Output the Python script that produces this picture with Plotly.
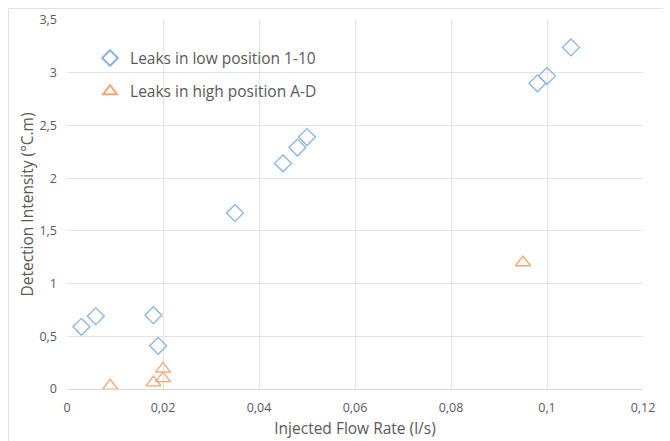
import plotly.graph_objects as go

low_x = [0.003, 0.006, 0.018, 0.019, 0.035, 0.045, 0.048, 0.050, 0.098, 0.100, 0.105]
low_y = [0.59, 0.69, 0.70, 0.41, 1.67, 2.14, 2.29, 2.39, 2.90, 2.97, 3.24]
high_x = [0.009, 0.018, 0.020, 0.020, 0.095]
high_y = [0.03, 0.06, 0.19, 0.10, 1.20]

x_ticks = [0, 0.02, 0.04, 0.06, 0.08, 0.1, 0.12]
y_ticks = [0, 0.5, 1, 1.5, 2, 2.5, 3, 3.5]

font_fam = "Open Sans, Lato, sans-serif"
gray = "#595959"

fig = go.Figure()
fig.add_trace(go.Scatter(
    x=low_x, y=low_y, mode="markers", name="Leaks in low position 1-10", legendgroup="a",
    marker=dict(symbol="diamond-open", size=13, color="#86b4e3", line=dict(width=1.3, color="#86b4e3")),
))
fig.add_trace(go.Scatter(
    x=high_x, y=high_y, mode="markers", name="Leaks in high position A-D", legendgroup="b",
    marker=dict(symbol="triangle-up-open", size=13, color="#f4a46c", line=dict(width=1.3, color="#f4a46c")),
))

fig.update_layout(
    width=662, height=433,
    margin=dict(l=59, r=27, t=12, b=52, autoexpand=False),
    paper_bgcolor="white", plot_bgcolor="white",
    separators=", ",
    font=dict(family=font_fam, color=gray, size=12),
    showlegend=True,
    legend=dict(x=0.04, y=0.942, xanchor="left", yanchor="top",
                font=dict(size=15.5, color=gray, family=font_fam),
                bgcolor="rgba(0,0,0,0)", traceorder="grouped", tracegroupgap=10,
                itemsizing="constant"),
    xaxis=dict(range=[0, 0.12], tickvals=x_ticks, showgrid=True, gridcolor="#e3e3e3",
               zeroline=False, showline=True, linecolor="#d9d9d9", mirror=False,
               ticks="", ticklabelstandoff=7, tickfont=dict(size=12.5, color=gray),
               title=dict(text="Injected Flow Rate (l/s)", font=dict(size=15.5, color=gray), standoff=8)),
    yaxis=dict(range=[0, 3.5], tickvals=y_ticks, showgrid=True, gridcolor="#e3e3e3",
               zeroline=False, showline=False, ticks="", ticklabelstandoff=9,
               tickfont=dict(size=12.5, color=gray),
               title=dict(text="Detection Intensity (°C.m)", font=dict(size=15.5, color=gray), standoff=2)),
    shapes=[
        dict(type="line", xref="paper", yref="paper", x0=-58.5/576, x1=1.1, y0=1 + 11.5/369, y1=1 + 11.5/369,
             line=dict(color="#e0e0e0", width=1)),
        dict(type="line", xref="paper", yref="paper", x0=-58.5/576, x1=-58.5/576, y0=-0.2, y1=1 + 11.5/369,
             line=dict(color="#e0e0e0", width=1)),
    ],
)

fig.write_html("out.html")
